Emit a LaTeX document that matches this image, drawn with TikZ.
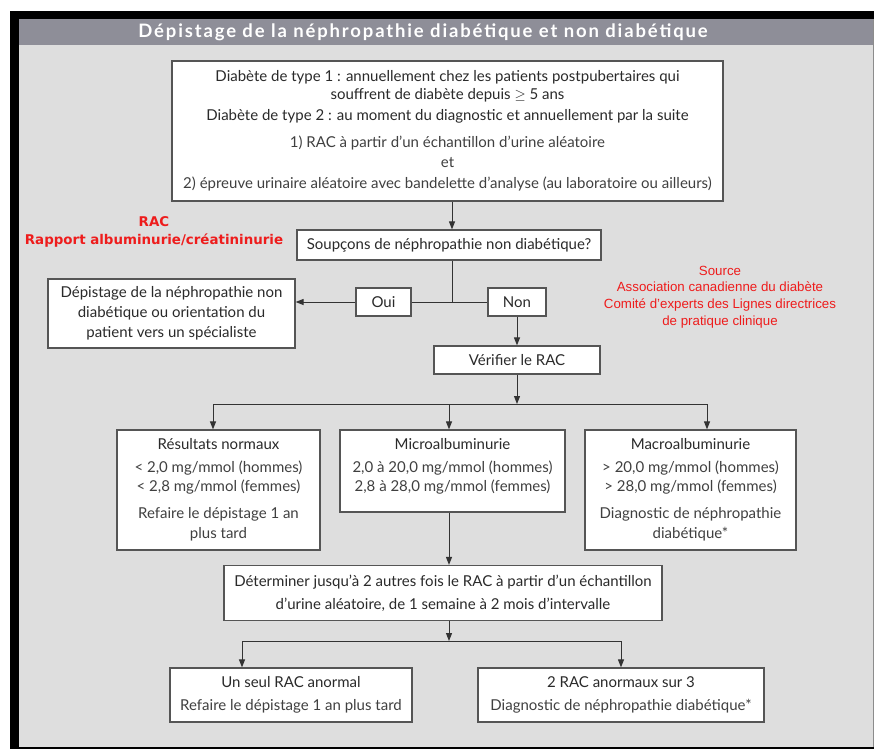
\documentclass[tikz,border=0pt]{standalone}
\usepackage{fontspec}
\setmainfont{Lato}
\newfontfamily\titlef[LetterSpace=10]{Lato}
\newfontfamily\arialf{Liberation Sans}
\newfontfamily\verdf{DejaVu Sans}
\usetikzlibrary{arrows.meta}
\definecolor{bg}{HTML}{DEDEDE}
\definecolor{titlebar}{HTML}{8E8E98}
\definecolor{boxline}{HTML}{555555}
\definecolor{txt}{HTML}{2A2A2A}
\definecolor{txtl}{HTML}{404040}
\definecolor{redt}{HTML}{EE1C1C}
\begin{document}
\begin{tikzpicture}[x=1pt,y=-1pt,
 flowbox/.style={draw=boxline, line width=1.2pt, fill=white, text=txt, align=center, inner sep=0pt, font=\fontsize{15}{19}\selectfont},
 conn/.style={draw=black!80, line width=1pt},
 arr/.style={conn, -{Triangle[length=8pt,width=6pt]}},
 redlab/.style={text=redt, align=center, inner sep=0pt},
]
\useasboundingbox (0,0) rectangle (874,749);
\fill[white] (0,0) rectangle (874,749);
\fill[black] (10,11) rectangle (874,749);
\fill[bg] (19,19) rectangle (874,746.5);
\fill[titlebar] (19,19) rectangle (874,45);
\draw[black!45, line width=1pt] (873,19) -- (873,746.5);
\node[text=white, font=\titlef\fontsize{18.5}{18}\selectfont\bfseries, inner sep=0pt] (title) at (423,32) {Dépistage de la néphropathie diabétique et non diabétique};

% boxes
\node[flowbox, minimum width=551, minimum height=140] (top) at (447.5,131) {Diabète de type 1 : annuellement chez les patients postpubertaires qui\\[-1pt]
souffrent de diabète depuis $\geq$ 5 ans\\[2pt]
Diabète de type 2 : au moment du diagnostic et annuellement par la suite\\[8pt]
{\color{txtl}1) RAC à partir d’un échantillon d’urine aléatoire}\\[1pt]
{\color{txtl}et}\\[2pt]
{\color{txtl}2) épreuve urinaire aléatoire avec bandelette d’analyse (au laboratoire ou ailleurs)}};

\node[flowbox, minimum width=304, minimum height=30] (q) at (449,245) {Soupçons de néphropathie non diabétique?};
\node[flowbox, minimum width=55, minimum height=28] (oui) at (383.5,302) {Oui};
\node[flowbox, minimum width=58, minimum height=28] (non) at (517,302) {Non};
\node[flowbox, minimum width=247, minimum height=69, font=\fontsize{15}{20}\selectfont] (left) at (171.5,313.5) {Dépistage de la néphropathie non\\diabétique ou orientation du\\patient vers un spécialiste};
\node[flowbox, minimum width=166, minimum height=28] (verif) at (517,360) {Vérifier le RAC};

\node[flowbox, minimum width=203, minimum height=120] (normal) at (218.5,490) {Résultats normaux\\[4pt]
{\color{txtl}< 2,0 mg/mmol (hommes)}\\
{\color{txtl}< 2,8 mg/mmol (femmes)}\\[8pt]
{\color{txtl}Refaire le dépistage 1 an}\\[1pt]
{\color{txtl}plus tard}};
\node[flowbox, minimum width=225, minimum height=82] (micro) at (452.5,471) {Microalbuminurie\\[4pt]
{\color{txtl}2,0 à 20,0 mg/mmol (hommes)}\\
{\color{txtl}2,8 à 28,0 mg/mmol (femmes)}\rule[-13pt]{0pt}{13pt}};
\node[flowbox, minimum width=211, minimum height=120] (macro) at (690.5,490) {Macroalbuminurie\\[4pt]
{\color{txtl}> 20,0 mg/mmol (hommes)}\\
{\color{txtl}> 28,0 mg/mmol (femmes)}\\[8pt]
{\color{txtl}Diagnostic de néphropathie}\\[1pt]
{\color{txtl}diabétique*}};

\node[flowbox, minimum width=438, minimum height=55, font=\fontsize{15}{23}\selectfont] (det) at (443,593) {Déterminer jusqu’à 2 autres fois le RAC à partir d’un échantillon\\d’urine aléatoire, de 1 semaine à 2 mois d’intervalle};
\node[flowbox, minimum width=242, minimum height=54, font=\fontsize{15}{23}\selectfont] (seul) at (291,695) {Un seul RAC anormal\\{\color{txtl}Refaire le dépistage 1 an plus tard}};
\node[flowbox, minimum width=286, minimum height=54, font=\fontsize{15}{23}\selectfont] (deux) at (621,695) {2 RAC anormaux sur 3\\{\color{txtl}Diagnostic de néphropathie diabétique*}};

% red labels
\node[redlab, font=\verdf\bfseries\fontsize{13.4}{18}\selectfont] (rac) at (154,231.5) {RAC\\Rapport albuminurie/créatininurie};
\node[redlab, font=\arialf\fontsize{13.3}{16.7}\selectfont] (src) at (720,297) {Source\\Association canadienne du diabète\\Comité d’experts des Lignes directrices\\de pratique clinique};

% junctions
\coordinate (j1) at (452,302);
\coordinate (j2) at (517,404);
\coordinate (j2l) at (213,404);
\coordinate (j2m) at (449,404);
\coordinate (j2r) at (707,404);
\coordinate (j3) at (449,641);
\coordinate (j3l) at (242,641);
\coordinate (j3r) at (621,641);

% connectors
\draw[arr] (top.south -| j1) -- (q.north -| j1);
\draw[conn] (q.south -| j1) -- (j1);
\draw[conn] (oui.east) -- (non.west);
\draw[arr] (oui.west) -- (left.east |- oui.west);
\draw[arr] (non.south) -- (verif.north);
\draw[arr] (verif.south) -- (j2);
\draw[conn] (j2l) -- (j2r);
\draw[arr] (j2l) -- (normal.north -| j2l);
\draw[arr] (j2m) -- (micro.north -| j2m);
\draw[arr] (j2r) -- (macro.north -| j2r);
\draw[arr] (micro.south -| j3) -- (det.north -| j3);
\draw[arr] (det.south -| j3) -- (j3);
\draw[conn] (j3l) -- (j3r);
\draw[arr] (j3l) -- (seul.north -| j3l);
\draw[arr] (j3r) -- (deux.north -| j3r);
\end{tikzpicture}
\end{document}
